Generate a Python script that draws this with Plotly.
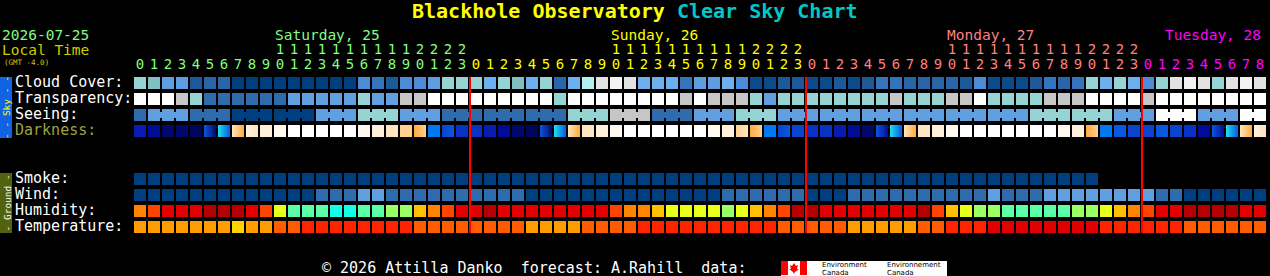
import plotly.graph_objects as go

W, H = 1270, 276
MONO = "DejaVu Sans Mono"

# ---------------- data ----------------
title_left = "Blackhole Observatory"
title_right = "Clear Sky Chart"
date_label = "2026-07-25"
time_label = "Local Time"
gmt_label = "(GMT -4.0)"
day_labels = ["Saturday, 25", "Sunday, 26", "Monday, 27", "Tuesday, 28"]
day_colors = ["#80ff80", "#ffff00", "#ff8080", "#ff00ff"]
day_hours = [24, 24, 24, 9]          # forecast hours shown per day
row_labels = ["Cloud Cover:", "Transparency:", "Seeing:", "Darkness:",
              "Smoke:", "Wind:", "Humidity:", "Temperature:"]
row_label_colors = ["#ffffff", "#ffffff", "#ffffff", "#a0a040",
                    "#ffffff", "#ffffff", "#ffffff", "#ffffff"]
footer_text = "©\u00a02026 Attilla Danko\u00a0\u00a0forecast: A.Rahill\u00a0\u00a0data:"
logo_lines = [["Environment", "Canada"], ["Environnement", "Canada"]]

cloud_palette = ["#003f7f", "#0b4b8b", "#1b5999", "#2864a8", "#3474bc", "#4c8cd4",
                 "#5e9ee0", "#6cb0f0", "#80c0c0", "#96d4d4", "#b0f0f0", "#e2e2e2", "#f2f2f2"]
cloud = [9, 8, 6, 6, 2, 3, 3, 0, 0, 0,
         0, 0, 0, 0, 0, 0, 5, 4, 2, 5,
         5, 6, 9, 9, 9, 7, 9, 8, 7, 9,
         3, 7, 10, 11, 12, 11, 7, 7, 7, 4,
         6, 6, 7, 5, 1, 1, 2, 2, 1, 1,
         2, 1, 2, 4, 4, 3, 3, 3, 3, 2,
         5, 1, 1, 1, 2, 4, 3, 4, 9, 7,
         9, 7, 5, 9, 11, 12, 11, 9, 11, 12,
         11]

sky_palette = ["#ffffff", "#c6c6c6", "#96d4d4", "#60a0e0", "#2e6cae", "#003f7f"]
transparency = [0, 0, 0, 1, 2, 4, 4, 4, 4, 4,
                4, 3, 3, 3, 3, 3, 2, 3, 3, 1,
                1, 0, 0, 0, 0, 0, 0, 0, 0, 0,
                2, 0, 0, 0, 0, 0, 0, 0, 0, 1,
                0, 1, 1, 1, 2, 3, 2, 2, 2, 2,
                2, 2, 2, 2, 1, 2, 2, 2, 1, 1,
                0, 2, 2, 2, 2, 1, 1, 1, 0, 0,
                0, 0, 1, 0, 0, 0, 0, 0, 0, 0,
                0]
seeing = [4, 3, 3, 3, 4, 4, 4, 5, 5, 5,
          5, 5, 5, 3, 3, 3, 2, 2, 2, 3,
          3, 3, 4, 4, 4, 4, 4, 4, 4, 4,
          4, 2, 2, 2, 1, 1, 1, 4, 4, 4,
          3, 3, 3, 2, 2, 2, 3, 3, 3, 3,
          3, 3, 3, 3, 3, 3, 3, 3, 3, 3,
          3, 3, 3, 3, 2, 2, 2, 2, 2, 2,
          3, 3, 3, 0, 0, 0, 3, 3, 3, 0,
          0]
seeing_block_offset = 2   # seeing forecast comes in 3-hour blocks
seeing_block_len = 3

dark_palette = ["#ffffff", "#fff9f0", "#fff0dc", "#ffe4c0", "#ffd090", "#ffac38",
                "#20e0f0", "#0078f0", "#0858e0", "#0844d0", "#0832c4", "#0a1cb0",
                "#000c98", "#00086c", "#00065a"]
darkness_start = [11, 12, 13, 13, 14, 13, 8, 5, 3, 2,
                  1, 0, 0, 0, 0, 0, 1, 2, 3, 4,
                  4, 7, 8, 10, 10, 11, 12, 13, 14, 13,
                  8, 5, 3, 2, 1, 0, 0, 0, 0, 0,
                  0, 1, 2, 3, 4, 7, 8, 9, 10, 10,
                  11, 12, 13, 12, 8, 5, 3, 2, 1, 0,
                  0, 0, 0, 0, 0, 0, 1, 2, 4, 7,
                  8, 9, 9, 8, 9, 10, 12, 12, 8, 5,
                  3]
darkness_end = [11, 12, 13, 13, 14, 8, 6, 3, 2, 2,
                1, 0, 0, 0, 0, 0, 1, 2, 3, 4,
                5, 7, 9, 10, 10, 11, 12, 13, 14, 8,
                6, 3, 3, 2, 1, 0, 0, 0, 0, 0,
                0, 1, 2, 4, 5, 7, 9, 9, 10, 10,
                11, 12, 13, 8, 6, 3, 3, 2, 1, 0,
                0, 0, 0, 0, 0, 0, 1, 2, 5, 7,
                8, 9, 9, 8, 9, 10, 12, 8, 6, 3,
                2]

smoke_palette = ["#003f7f"]
smoke = [0, 0, 0, 0, 0, 0, 0, 0, 0, 0,
         0, 0, 0, 0, 0, 0, 0, 0, 0, 0,
         0, 0, 0, 0, 0, 0, 0, 0, 0, 0,
         0, 0, 0, 0, 0, 0, 0, 0, 0, 0,
         0, 0, 0, 0, 0, 0, 0, 0, 0, 0,
         0, 0, 0, 0, 0, 0, 0, 0, 0, 0,
         0, 0, 0, 0, 0, 0, 0, 0, 0]

wind_palette = ["#003f7f", "#2e6cae", "#60a0e0"]
wind = [0, 0, 0, 0, 0, 0, 0, 0, 0, 0,
        0, 0, 0, 1, 1, 1, 2, 2, 1, 1,
        1, 1, 1, 1, 1, 1, 1, 1, 0, 0,
        0, 0, 0, 0, 0, 0, 0, 0, 0, 0,
        0, 0, 1, 1, 1, 1, 1, 1, 0, 0,
        0, 1, 1, 1, 1, 1, 1, 1, 1, 1,
        1, 2, 1, 1, 1, 2, 2, 2, 2, 2,
        2, 2, 2, 1, 1, 0, 0, 0, 0, 0,
        0]

humidity_palette = ["#10ffe8", "#5affa8", "#9aff60", "#e8ff1a", "#ffc000",
                    "#ff8400", "#ff4400", "#e20000", "#b40000"]
humidity = [5, 6, 7, 7, 7, 8, 8, 8, 7, 6,
            3, 1, 1, 1, 0, 0, 1, 1, 2, 2,
            4, 5, 6, 7, 7, 8, 7, 7, 7, 7,
            7, 7, 7, 7, 6, 5, 5, 4, 3, 3,
            3, 3, 2, 3, 4, 5, 6, 8, 8, 7,
            7, 7, 7, 7, 7, 7, 8, 6, 4, 3,
            2, 2, 1, 1, 1, 1, 1, 2, 2, 3,
            4, 5, 6, 7, 7, 8, 8, 8, 8, 7,
            7]

temp_palette = ["#ffd400", "#ff9c00", "#ff5c00", "#ff2400", "#e00000"]
temperature = [1, 1, 1, 1, 1, 1, 1, 0, 1, 1,
               2, 2, 3, 3, 3, 3, 3, 3, 3, 3,
               2, 2, 2, 2, 2, 2, 2, 2, 1, 1,
               1, 1, 2, 2, 2, 2, 3, 3, 3, 3,
               3, 3, 3, 3, 3, 3, 2, 2, 2, 2,
               2, 1, 1, 1, 1, 1, 2, 2, 3, 3,
               3, 4, 4, 4, 4, 4, 4, 4, 4, 3,
               3, 3, 3, 3, 3, 2, 2, 2, 2, 2,
               2]

# ---------------- layout geometry ----------------
COL_PX = 14          # pixels per hour column
ROW_PX = 16          # pixels per row
X0_PX = 140          # pixel centre of first column
Y0_PX = 83           # pixel centre of first row
CELL = 12
row_pos = [0, 1, 2, 3, 6, 7, 8, 9]   # row slots (two empty slots between sky and ground)

n_cols = sum(day_hours)
hours = []
day_of_col = []
for d, nh in enumerate(day_hours):
    hours += list(range(nh))
    day_of_col += [d] * nh

fig = go.Figure()


def add_cells(values, palette, y):
    xs = [i for i, v in enumerate(values) if v is not None]
    fig.add_trace(go.Scatter(
        x=xs, y=[y] * len(xs), mode="markers",
        marker=dict(symbol="square", size=CELL, color=[palette[values[i]] for i in xs],
                    line=dict(width=0)),
        hoverinfo="skip", showlegend=False))


# seeing bridges inside each 3-hour block
for lvl, colr in enumerate(sky_palette):
    bx, by = [], []
    for i in range(len(seeing) - 1):
        same_block = (i + seeing_block_offset) // seeing_block_len == (i + 1 + seeing_block_offset) // seeing_block_len
        if same_block and seeing[i] == lvl and seeing[i + 1] == lvl:
            bx += [i, i + 1, None]
            by += [row_pos[2], row_pos[2], None]
    if bx:
        fig.add_trace(go.Scatter(x=bx, y=by, mode="lines", line=dict(color=colr, width=6),
                                 hoverinfo="skip", showlegend=False))

add_cells(cloud, cloud_palette, row_pos[0])
add_cells(transparency, sky_palette, row_pos[1])
add_cells(seeing, sky_palette, row_pos[2])

# darkness with horizontal gradients
fig.add_trace(go.Scatter(
    x=list(range(len(darkness_end))), y=[row_pos[3]] * len(darkness_end), mode="markers",
    marker=dict(symbol="square", size=CELL, color=[dark_palette[v] for v in darkness_end],
                gradient=dict(type="horizontal", color=[dark_palette[v] for v in darkness_start]),
                line=dict(width=0)),
    hoverinfo="skip", showlegend=False))

add_cells(smoke, smoke_palette, row_pos[4])
add_cells(wind, wind_palette, row_pos[5])
add_cells(humidity, humidity_palette, row_pos[6])
add_cells(temperature, temp_palette, row_pos[7])

# midnight lines
half = CELL / 2 / ROW_PX
lx, ly = [], []
start = 0
for nh in day_hours[:-1]:
    start += nh
    xb = start - 0.5 + 1 / COL_PX
    lx += [xb, xb, None]
    ly += [row_pos[0] - half, row_pos[-1] + half, None]
fig.add_trace(go.Scatter(x=lx, y=ly, mode="lines", line=dict(color="#ff0000", width=2),
                         hoverinfo="skip", showlegend=False))

# hour labels (units row and tens row)
HOUR_FONT = 14
y_units = (65 - Y0_PX) / ROW_PX
y_tens = (50 - Y0_PX) / ROW_PX
fig.add_trace(go.Scatter(
    x=list(range(n_cols)), y=[y_units] * n_cols, mode="text",
    text=[str(h % 10) for h in hours], textposition="middle center",
    textfont=dict(family=MONO, size=HOUR_FONT, color=[day_colors[d] for d in day_of_col]),
    hoverinfo="skip", showlegend=False))
tx = [i for i, h in enumerate(hours) if h >= 10]
fig.add_trace(go.Scatter(
    x=tx, y=[y_tens] * len(tx), mode="text",
    text=[str(hours[i] // 10) for i in tx], textposition="middle center",
    textfont=dict(family=MONO, size=HOUR_FONT, color=[day_colors[day_of_col[i]] for i in tx]),
    hoverinfo="skip", showlegend=False))


def ann(text, px, py, size, color, xanchor="left", bold=False, family=MONO, angle=0,
        align="left"):
    fig.add_annotation(x=px / W, y=1 - py / H, xref="paper", yref="paper", text=text,
                       showarrow=False, xanchor=xanchor, yanchor="middle", borderpad=0,
                       textangle=angle, align=align,
                       font=dict(family=family, size=size, color=color,
                                 weight="bold" if bold else "normal"))


# title
ann(f"<span style='color:#ffff00'>{title_left}</span> <span style='color:#00c8c8'>{title_right}</span>",
    W / 2, 11, 20, "#ffff00", xanchor="center", bold=True, align="center")

# date / local time / GMT
ann(date_label, 1, 34.5, 14.5, "#80ff80")
ann(time_label, 1, 50, 14.5, "#cccc00")
ann(gmt_label, 3, 62, 7.5, "#cccc00")

# day labels
start = 0
for d, nh in enumerate(day_hours):
    lx_px = X0_PX - CELL / 2 + COL_PX * (start + 10)
    width = len(day_labels[d]) * 9
    if lx_px + width > W:
        ann(day_labels[d], W - 8, 34.5, 14.5, day_colors[d], xanchor="right")
    else:
        ann(day_labels[d], lx_px, 34.5, 14.5, day_colors[d])
    start += nh

# row labels
for lab, colr, rp in zip(row_labels, row_label_colors, row_pos):
    ann(lab, 14, Y0_PX + ROW_PX * rp - 1, 15, colr)

# side bars
fig.add_shape(type="rect", xref="paper", yref="paper", x0=0, x1=12 / W,
              y0=1 - 138 / H, y1=1 - 77 / H, fillcolor="#1064e4", line_width=0, layer="below")
fig.add_shape(type="rect", xref="paper", yref="paper", x0=0, x1=12 / W,
              y0=1 - 233 / H, y1=1 - 173 / H, fillcolor="#526210", line_width=0, layer="below")
ann("- - Sky - -", 6.5, 107.5, 9.5, "#ffff00", xanchor="center", angle=-90, align="center")
ann("- Ground -", 6.5, 203, 9.5, "#ffffff", xanchor="center", angle=-90, align="center")

# footer
ann(footer_text, 321, 267.5, 15, "#ffffff")

# Environment Canada logo
fig.add_shape(type="rect", xref="paper", yref="paper", x0=781 / W, x1=947 / W,
              y0=0, y1=1 - 261 / H, fillcolor="#ffffff", line_width=0)
for a, b in [(781, 788), (800, 807)]:
    fig.add_shape(type="rect", xref="paper", yref="paper", x0=a / W, x1=b / W,
                  y0=1 - 275 / H, y1=1 - 261 / H, fillcolor="#ff0000", line_width=0)
leaf = [(794, 263), (796, 266), (798, 265), (797, 269), (799, 269), (795, 272),
        (794, 274), (793, 272), (789, 269), (791, 269), (790, 265), (792, 266)]
path = "M " + " L ".join(f"{x / W:.5f},{1 - y / H:.5f}" for x, y in leaf) + " Z"
fig.add_shape(type="path", xref="paper", yref="paper", path=path, fillcolor="#ff0000", line_width=0)
for lines, px in zip(logo_lines, [821, 886]):
    ann(lines[0], px, 264.5, 7, "#000000", family="DejaVu Sans")
    ann(lines[1], px, 272.5, 7, "#000000", family="DejaVu Sans")

x_lo = -X0_PX / COL_PX
y_lo = -Y0_PX / ROW_PX
fig.update_layout(
    width=W, height=H, margin=dict(l=0, r=0, t=0, b=0),
    paper_bgcolor="#000000", plot_bgcolor="#000000",
    xaxis=dict(range=[x_lo, x_lo + W / COL_PX], visible=False, fixedrange=True),
    yaxis=dict(range=[y_lo + H / ROW_PX, y_lo], visible=False, fixedrange=True),
    showlegend=False,
)

fig.write_html("out.html", config={"displayModeBar": False})
